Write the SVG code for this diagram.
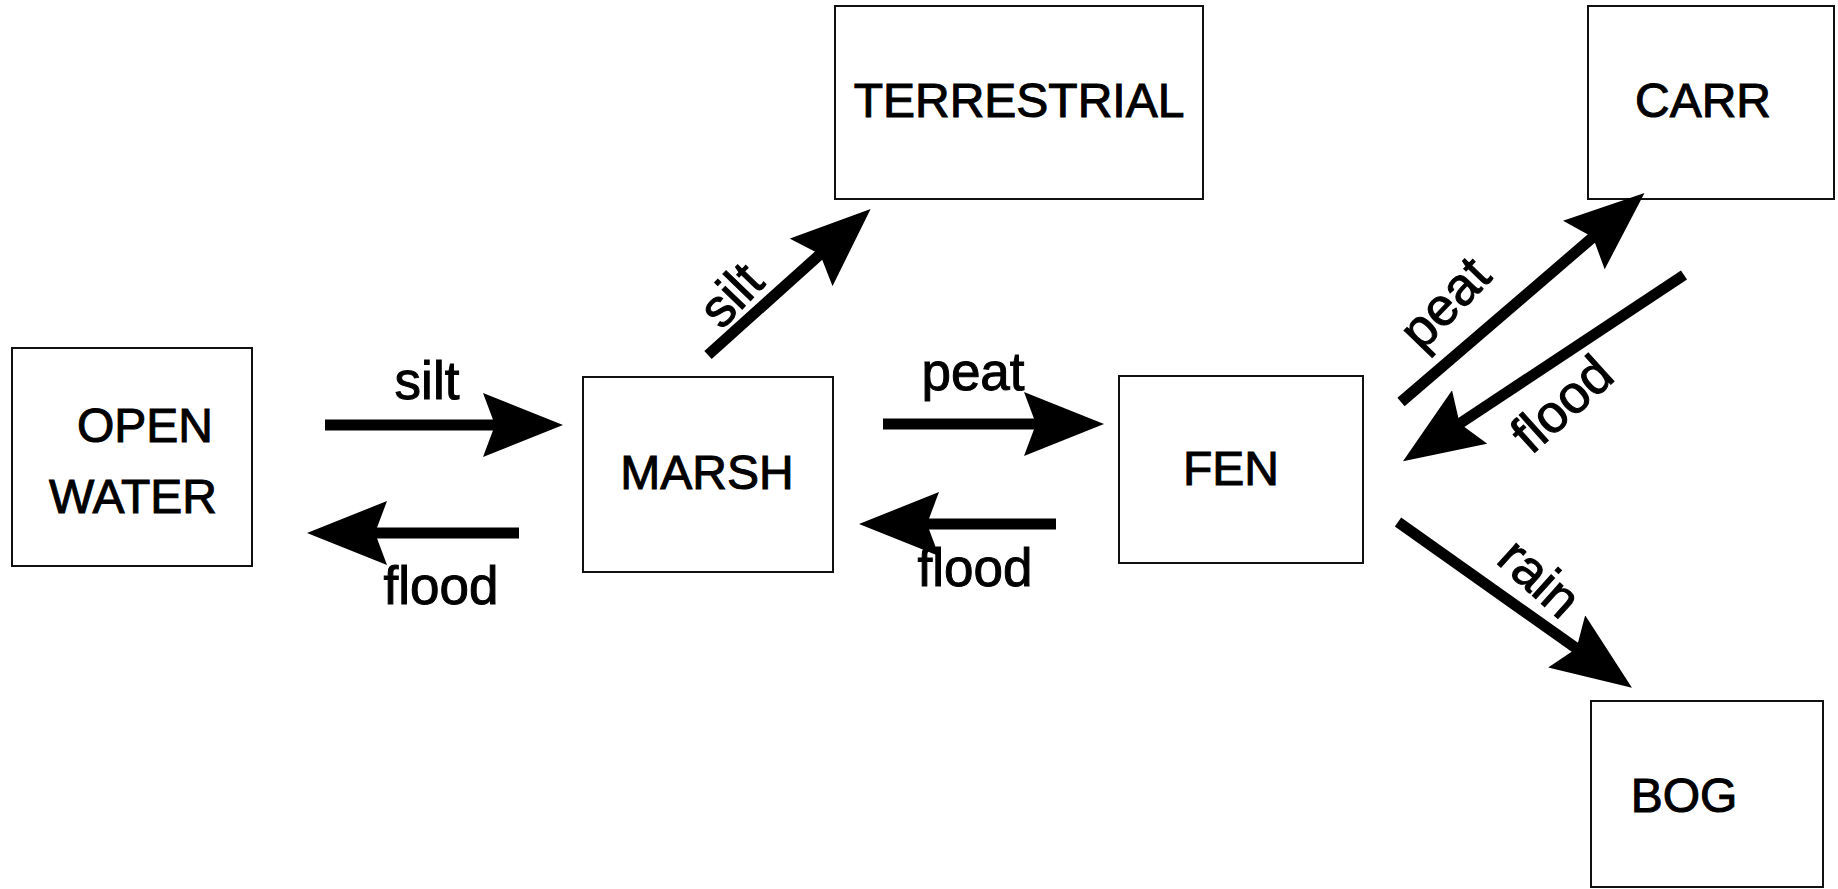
<svg xmlns="http://www.w3.org/2000/svg" width="1838" height="889" viewBox="0 0 1838 889">
<defs>
<marker id="ah" markerUnits="userSpaceOnUse" viewBox="0 0 80 64" markerWidth="80" markerHeight="64" refX="20" refY="32" orient="auto">
<path d="M0,0 L80,32 L0,64 L12,32 Z" fill="#000"/>
</marker>
<style>
.box{fill:#fff;stroke:#111;stroke-width:2}
.nt{font-family:"Liberation Sans",Arial,sans-serif;font-size:48px;fill:#000;stroke:#000;stroke-width:1;text-anchor:middle}
.lb{font-family:"Liberation Sans",Arial,sans-serif;font-size:53px;fill:#000;stroke:#000;stroke-width:1;text-anchor:middle}
.ar{stroke:#000;stroke-width:11;fill:none;marker-end:url(#ah)}
</style>
</defs>
<rect width="1838" height="889" fill="#fff"/>
<g id="open-water"><rect class="box" x="12" y="348" width="240" height="218"/><text class="nt" x="145" y="442">OPEN</text><text class="nt" x="133" y="513">WATER</text></g>
<g id="marsh"><rect class="box" x="583" y="377" width="250" height="195"/><text class="nt" x="707" y="489">MARSH</text></g>
<g id="terrestrial"><rect class="box" x="835" y="6" width="368" height="193"/><text class="nt" x="1019" y="117">TERRESTRIAL</text></g>
<g id="fen"><rect class="box" x="1119" y="376" width="244" height="187"/><text class="nt" x="1231" y="485">FEN</text></g>
<g id="carr"><rect class="box" x="1588" y="6" width="246" height="193"/><text class="nt" x="1703" y="117">CARR</text></g>
<g id="bog"><rect class="box" x="1591" y="701" width="232" height="186"/><text class="nt" x="1684" y="812">BOG</text></g>
<g id="connectors">
<line class="ar" x1="325" y1="425" x2="503" y2="425"/>
<line class="ar" x1="519" y1="533" x2="367" y2="533"/>
<line class="ar" x1="883" y1="424" x2="1044" y2="424"/>
<line class="ar" x1="1056" y1="524" x2="919" y2="524"/>
<line class="ar" x1="708" y1="355" x2="826" y2="249"/>
<line class="ar" x1="1401" y1="402" x2="1599" y2="232"/>
<line class="ar" x1="1684" y1="275" x2="1453" y2="428"/>
<line class="ar" x1="1398" y1="522" x2="1583" y2="653"/>
<text class="lb" x="427" y="399">silt</text>
<text class="lb" x="441" y="604">flood</text>
<text class="lb" x="973" y="390">peat</text>
<text class="lb" x="975" y="586">flood</text>
<text class="lb" transform="translate(731,295) rotate(-46)" y="18">silt</text>
<text class="lb" transform="translate(1449,307) rotate(-46)" y="12">peat</text>
<text class="lb" transform="translate(1562,404) rotate(-42)" y="18">flood</text>
<text class="lb" transform="translate(1537,581) rotate(42)" y="14">rain</text>
</g>
</svg>
